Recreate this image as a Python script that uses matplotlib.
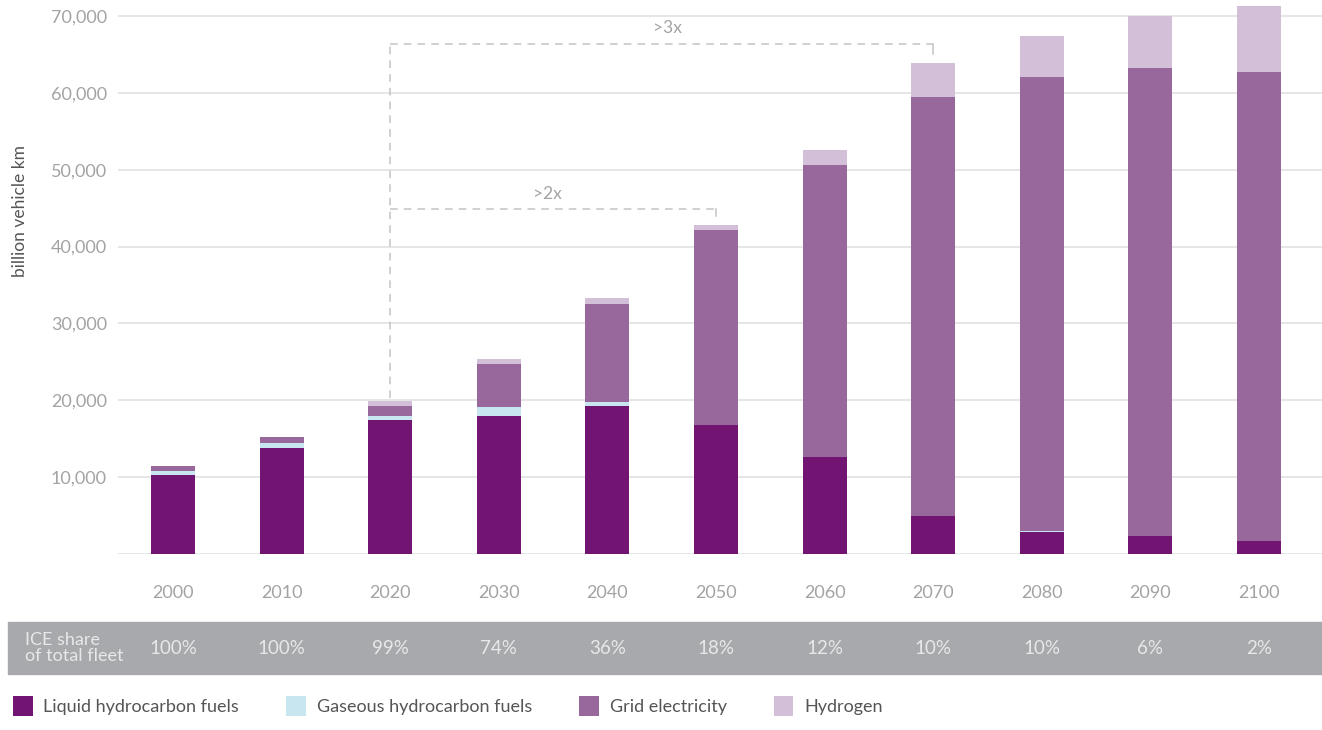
import matplotlib.pyplot as plt
import numpy as np
from matplotlib.patches import Rectangle
from matplotlib.transforms import blended_transform_factory

plt.rcParams["font.family"] = ["Lato", "DejaVu Sans"]

years = ["2000", "2010", "2020", "2030", "2040", "2050", "2060", "2070", "2080", "2090", "2100"]
liquid = [10300, 13750, 17450, 18000, 19250, 16800, 12600, 4900, 2850, 2400, 1700]
gaseous = [550, 730, 550, 1150, 480, 0, 0, 0, 150, 0, 0]
grid = [650, 700, 1250, 5550, 12850, 25350, 38000, 54600, 59000, 60850, 61000]
hydrogen = [0, 0, 700, 650, 700, 700, 1900, 4400, 5400, 6700, 8550]
ice_share = ["100%", "100%", "99%", "74%", "36%", "18%", "12%", "10%", "10%", "6%", "2%"]
yticks = [10000, 20000, 30000, 40000, 50000, 60000, 70000]

series = [
    ("Liquid hydrocarbon fuels", liquid, "#721572"),
    ("Gaseous hydrocarbon fuels", gaseous, "#c8e6ef"),
    ("Grid electricity", grid, "#98679b"),
    ("Hydrogen", hydrogen, "#d4bfd8"),
]

TEXT = "#a3a3a3"
GRID = "#e2e2e2"

fig = plt.figure(figsize=(13.22, 7.30), dpi=100)
ax = fig.add_axes([118 / 1322, 1 - 554 / 730, 1 - 118 / 1322, 554 / 730])

x = np.arange(len(years))
bottom = np.zeros(len(years))
handles = []
for name, vals, color in series:
    vals = np.array(vals, dtype=float)
    h = ax.bar(x, vals, 0.405, bottom=bottom, color=color, label=name, zorder=3)
    handles.append(h)
    bottom += vals
totals = bottom

ax.set_xlim(-0.506, 10.58)
ax.set_ylim(0, 72080)
ax.set_yticks([0] + yticks)
ax.set_yticklabels([""] + [f"{v:,}" for v in yticks])
ax.yaxis.grid(True, color=GRID, linewidth=1.2, zorder=0)
ax.set_axisbelow(True)
for s in ax.spines.values():
    s.set_visible(False)
ax.tick_params(axis="y", length=0, pad=8, labelsize=13, labelcolor=TEXT)
ax.set_xticks(x)
ax.set_xticklabels(years)
ax.tick_params(axis="x", length=0, pad=22, labelsize=13, labelcolor=TEXT)
ax.set_ylabel("billion vehicle km", fontsize=12.5, color="#555555")
ax.yaxis.set_label_coords(-0.075, 0.62)

# growth brackets
dash = dict(color="#c4c4c4", linewidth=1.1, linestyle=(0, (5, 4)), zorder=2, clip_on=False)
lvl2 = totals[5] + 2000
lvl3 = totals[7] + 2450
ax.plot([2, 2], [totals[2] + 300, lvl3], **dash)
ax.plot([2, 5], [lvl2, lvl2], **dash)
ax.plot([5, 5], [lvl2, lvl2 - 900], color="#c4c4c4", linewidth=1.1, zorder=2)
ax.plot([2, 7], [lvl3, lvl3], **dash)
ax.plot([7, 7], [lvl3, lvl3 - 1300], color="#c4c4c4", linewidth=1.1, zorder=2)
ax.text(3.45, lvl2 + 1000, ">2x", fontsize=12.5, color=TEXT, ha="center", va="bottom")
ax.text(4.55, lvl3 + 1000, ">3x", fontsize=12.5, color=TEXT, ha="center", va="bottom")

# ICE share band
band_bottom, band_top = 1 - 674 / 730, 1 - 622 / 730
band_mid = (band_bottom + band_top) / 2
fig.patches.append(Rectangle((8 / 1322, band_bottom), 1, band_top - band_bottom,
                             transform=fig.transFigure, color="#a7a9ac", zorder=0))
fig.text(25 / 1322, band_mid, "ICE share\nof total fleet", fontsize=13,
         color="#e8e8e8", ha="left", va="center", linespacing=0.95)
trans = blended_transform_factory(ax.transData, fig.transFigure)
for xi, share in zip(x, ice_share):
    fig.text(xi, band_mid, share, transform=trans, fontsize=13.5, color="#e8e8e8",
             ha="center", va="center")

fig.legend(handles=handles, loc="lower left", bbox_to_anchor=(0, 0.002), ncol=4,
           frameon=False, fontsize=13, labelcolor="#555555", handlelength=1.1,
           handleheight=1.3, handletextpad=0.6, columnspacing=2.6, borderaxespad=0.3)

fig.savefig("out.png", dpi=100)
plt.close(fig)
